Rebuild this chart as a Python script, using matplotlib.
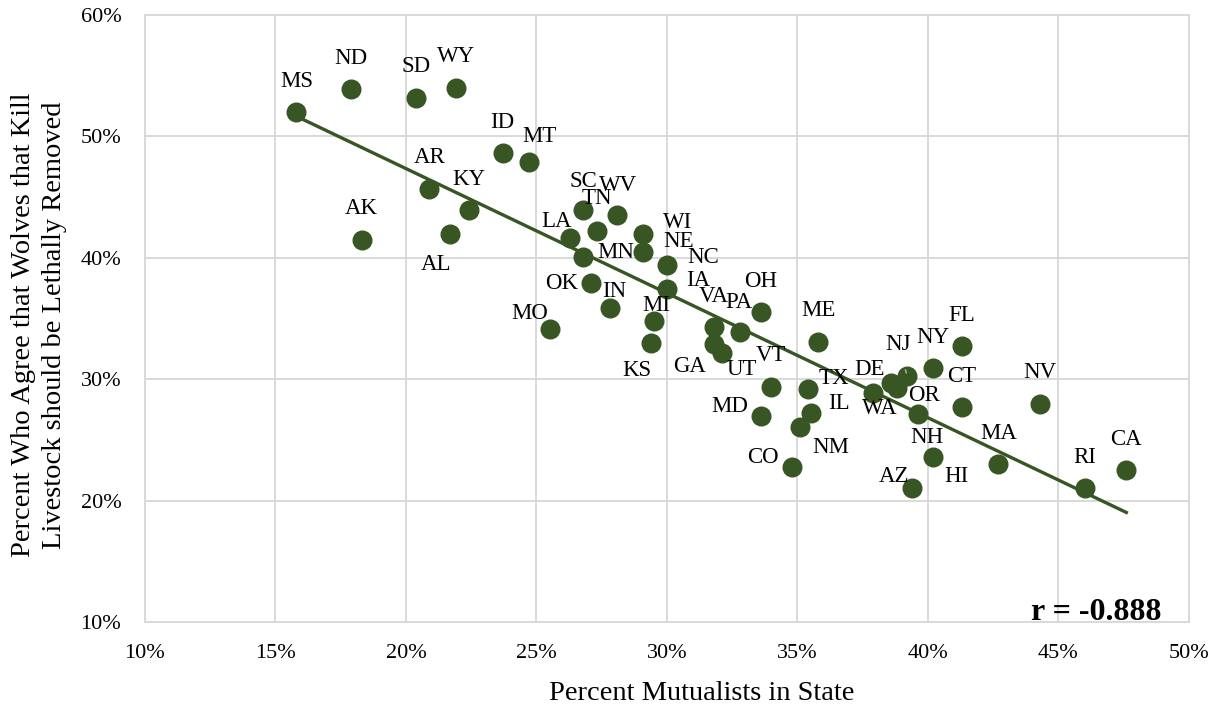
import numpy as np
import matplotlib
matplotlib.use("Agg")
import matplotlib.pyplot as plt
from matplotlib.ticker import PercentFormatter

plt.rcParams['font.family'] = ['Liberation Serif', 'DejaVu Serif']

# data (percent)
states = ["MS", "ND", "SD", "WY", "ID", "MT", "AR", "KY", "AK", "AL",
          "SC", "TN", "WV", "LA", "MN", "WI", "NE", "NC", "IA", "OK",
          "IN", "MO", "MI", "KS", "VA", "PA", "GA", "UT", "OH", "VT",
          "ME", "MD", "TX", "IL", "NM", "CO", "WA", "DE", "HI", "NJ",
          "NY", "FL", "CT", "NV", "OR", "NH", "AZ", "MA", "RI", "CA"]
mutualists = [15.8, 17.9, 20.4, 21.9, 23.7, 24.7, 20.9, 22.4, 18.3, 21.7,
              26.8, 27.3, 28.1, 26.3, 26.8, 29.1, 29.1, 30.0, 30.0, 27.1,
              27.8, 25.5, 29.5, 29.4, 31.8, 32.8, 31.8, 32.1, 33.6, 34.0,
              35.8, 33.6, 35.4, 35.5, 35.1, 34.8, 37.9, 38.6, 38.8, 39.2,
              40.2, 41.3, 41.3, 44.3, 39.6, 40.2, 39.4, 42.7, 46.0, 47.6]
lethal = [52.0, 53.9, 53.2, 54.0, 48.6, 47.9, 45.7, 43.9, 41.5, 42.0,
          43.9, 42.2, 43.5, 41.6, 40.1, 42.0, 40.5, 39.4, 37.4, 37.9,
          35.9, 34.1, 34.8, 33.0, 34.3, 33.9, 32.9, 32.2, 35.5, 29.4,
          33.1, 27.0, 29.2, 27.2, 26.1, 22.8, 28.9, 29.7, 29.3, 30.3,
          30.9, 32.7, 27.7, 28.0, 27.1, 23.6, 21.0, 23.0, 21.0, 22.5]

# label offsets from the dot, in pixels (default is straight above)
label_offsets = {
    "MT": (11, 25), "AL": (-14, -31), "SC": (0, 29), "WV": (1, 30),
    "TN": (0, 33), "LA": (-14, 17), "MN": (32, 4), "WI": (34, 11),
    "NE": (35, 10), "NC": (36, 8), "IA": (31, 9), "OK": (-30, 0),
    "IN": (5, 16), "MO": (-20, 16), "MI": (2, 15), "KS": (-14, -28),
    "PA": (-1, 29), "GA": (-24, -22), "UT": (20, -17), "MD": (-31, 9),
    "TX": (26, 10), "IL": (28, 10), "NM": (31, -21), "CO": (-29, 9),
    "DE": (-22, 13), "WA": (7, -16), "NJ": (-9, 31), "HI": (60, -89),
    "OR": (6, 19), "NH": (-6, 19), "AZ": (-18, 12),
}

green = "#375623"
grid = "#d9d9d9"

fig = plt.figure(figsize=(12.15, 7.13), dpi=100)
ax = fig.add_axes([0.1193, 0.1276, 0.8593, 0.8513])

x = np.array(mutualists)
y = np.array(lethal)
ax.scatter(x, y, s=180, color=green, edgecolors=green, zorder=3)

# linear trend line
slope, icpt = np.polyfit(x, y, 1)
xs = np.array([x.min(), x.max()])
ax.plot(xs, slope * xs + icpt, color=green, lw=2.4, zorder=2)

for st, xi, yi in zip(states, mutualists, lethal):
    dx, dy = label_offsets.get(st, (0, 31))
    arrow = None
    if st == "NJ":
        arrow = dict(arrowstyle="-", color="#a6a6a6", lw=1.2, shrinkA=9, shrinkB=2)
    ax.annotate(st, (xi, yi), xytext=(dx, dy), textcoords="offset pixels",
                ha="center", va="center", fontsize=16.5, color="black",
                arrowprops=arrow, zorder=4)

ax.set_xlim(10, 50)
ax.set_ylim(10, 60)
ax.set_xticks(np.arange(10, 51, 5))
ax.set_yticks(np.arange(10, 61, 10))
ax.xaxis.set_major_formatter(PercentFormatter(decimals=0))
ax.yaxis.set_major_formatter(PercentFormatter(decimals=0))
ax.tick_params(length=0, labelsize=16)
ax.tick_params(axis="x", pad=16)
ax.tick_params(axis="y", pad=17)
ax.grid(True, color=grid, lw=1.4)
ax.set_axisbelow(True)
for sp in ax.spines.values():
    sp.set_color(grid)
    sp.set_linewidth(1.4)

fig.text(702 / 1215, 1 - 693 / 713, "Percent Mutualists in State",
         ha="center", va="center", fontsize=20.5)
fig.text(39 / 1215, 1 - 325 / 713,
         "Percent Who Agree that Wolves that Kill\nLivestock should be Lethally Removed",
         ha="center", va="center", rotation=90, fontsize=20.5, linespacing=1.3)

ax.text(0.974, 0.004, "r = -0.888", transform=ax.transAxes, ha="right",
        va="baseline", fontsize=23, fontweight="bold", zorder=5)

fig.savefig("out.png", dpi=100)
